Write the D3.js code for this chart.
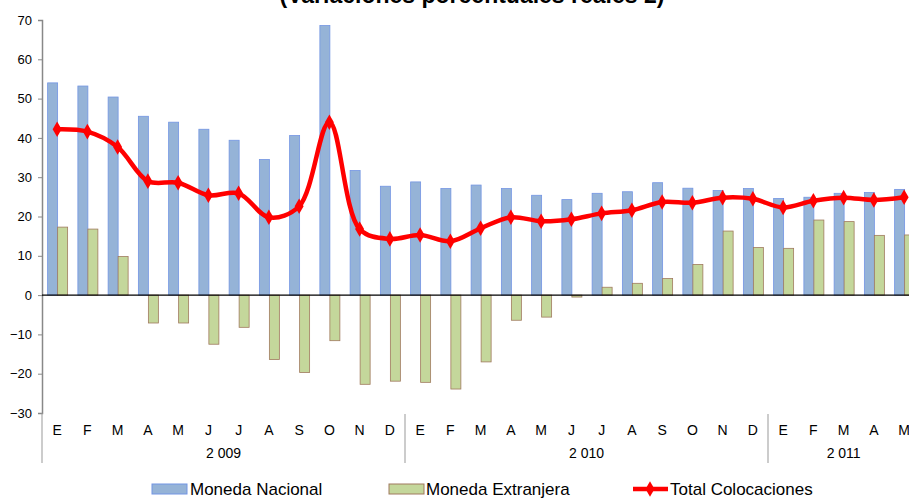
<!DOCTYPE html>
<html>
<head>
<meta charset="utf-8">
<script src="https://cdn.jsdelivr.net/npm/d3@7"></script>
<style>
  html, body { margin: 0; padding: 0; background: #fff; }
  svg { display: block; }
  text { font-family: Arial, "Liberation Sans", sans-serif; fill: #000; }
  .narrow { font-family: "Liberation Sans Narrow", "Arial Narrow", Arial, sans-serif; }
</style>
</head>
<body>
<svg id="chart" width="909" height="498"></svg>
<script>
// Month initials along the category axis (Jan 2009 – May 2011)
const months = ["E","F","M","A","M","J","J","A","S","O","N","D",
                "E","F","M","A","M","J","J","A","S","O","N","D",
                "E","F","M","A","M"];
const years = [
  { label: "2 009", start: 0, count: 12 },
  { label: "2 010", start: 12, count: 12 },
  { label: "2 011", start: 24, count: 5 }
];
// Real percentage variation, national currency loans
const monedaNacional = [54.0, 53.2, 50.4, 45.5, 44.0, 42.2, 39.4, 34.5, 40.6, 68.6, 31.7, 27.7,
                        28.8, 27.1, 28.0, 27.1, 25.4, 24.3, 25.9, 26.3, 28.6, 27.2, 26.6, 27.1,
                        24.6, 24.9, 25.9, 26.1, 26.9];
// Real percentage variation, foreign currency loans
const monedaExtranjera = [17.3, 16.8, 9.8, -7.1, -7.1, -12.5, -8.2, -16.4, -19.7, -11.6, -22.7, -21.9,
                          -22.2, -23.9, -17.0, -6.4, -5.6, -0.5, 2.0, 3.0, 4.2, 7.8, 16.3, 12.1,
                          11.9, 19.1, 18.7, 15.2, 15.3];
// Real percentage variation, total loans
const totalColocaciones = [42.2, 41.6, 37.7, 29.0, 28.6, 25.4, 25.9, 19.8, 22.6, 44.0, 16.8, 14.3,
                           15.3, 13.7, 17.0, 19.8, 18.8, 19.3, 20.8, 21.6, 23.7, 23.5, 24.8, 24.5,
                           22.3, 24.0, 24.8, 24.2, 24.9];
const yTicks = [-30, -20, -10, 0, 10, 20, 30, 40, 50, 60, 70];
const seriesNames = ["Moneda Nacional", "Moneda Extranjera", "Total Colocaciones"];
const titleText = "(Variaciones porcentuales reales 2)";

const svg = d3.select("#chart");
const plotLeft = 42, bandW = 30.25, plotTop = 20, plotBottom = 413;

const x = d3.scaleBand()
  .domain(d3.range(months.length))
  .range([plotLeft, plotLeft + bandW * months.length])
  .paddingInner(0).paddingOuter(0);
const cx = i => x(i) + x.bandwidth() / 2;
const y = d3.scaleLinear().domain([-30, 70]).range([plotBottom, plotTop]);

// Title (its upper part runs past the top edge of the page)
svg.append("text")
  .attr("x", 472).attr("y", 3)
  .attr("text-anchor", "middle")
  .style("font-weight", "bold").style("font-size", "23px")
  .text(titleText);

// Y axis
const yAxis = d3.axisLeft(y).tickValues(yTicks).tickSize(4).tickPadding(6).tickFormat(d3.format("d"));
const gy = svg.append("g").attr("transform", `translate(${plotLeft},0)`).call(yAxis);
gy.select(".domain").attr("stroke", "#888").attr("stroke-width", 1.5);
gy.selectAll(".tick line").attr("stroke", "#888");
gy.selectAll(".tick text").style("font-size", "13px").style("font-family", "Arial, 'Liberation Sans', sans-serif").attr("fill", "#000");

// Bars
const barW = 10;
svg.append("g").selectAll("rect").data(monedaNacional).join("rect")
  .attr("x", (d, i) => cx(i) - barW + 0.5)
  .attr("width", barW)
  .attr("y", d => y(Math.max(0, d)))
  .attr("height", d => Math.abs(y(d) - y(0)))
  .attr("fill", "#95b3d7")
  .attr("stroke", "#7395e3").attr("stroke-width", 0.8);

svg.append("g").selectAll("rect").data(monedaExtranjera).join("rect")
  .attr("x", (d, i) => cx(i) + 0.5)
  .attr("width", barW)
  .attr("y", d => y(Math.max(0, d)))
  .attr("height", d => Math.abs(y(d) - y(0)))
  .attr("fill", "#c4d79b")
  .attr("stroke", "#a07a5e").attr("stroke-width", 0.8);

// Zero line
svg.append("line")
  .attr("x1", plotLeft).attr("x2", 909)
  .attr("y1", y(0)).attr("y2", y(0))
  .attr("stroke", "#000").attr("stroke-width", 1.2);

// Total line with diamond markers
const line = d3.line()
  .x((d, i) => cx(i))
  .y(d => y(d))
  .curve(d3.curveCatmullRom.alpha(0.5));
svg.append("path")
  .datum(totalColocaciones)
  .attr("d", line)
  .attr("fill", "none")
  .attr("stroke", "#ff0000")
  .attr("stroke-width", 4.5)
  .attr("stroke-linejoin", "round");
svg.append("g").selectAll("path").data(totalColocaciones).join("path")
  .attr("transform", (d, i) => `translate(${cx(i)},${y(d)})`)
  .attr("d", d3.symbol(d3.symbolDiamond, 70))
  .attr("fill", "#ff0000");

// Category axis: month initials and year groups
const gx = svg.append("g");
gx.selectAll("text.month").data(months).join("text")
  .attr("class", "month narrow")
  .attr("x", (d, i) => cx(i))
  .attr("y", 435)
  .attr("text-anchor", "middle")
  .style("font-size", "14px")
  .text(d => d);
const sepX = [plotLeft].concat(years.slice(1).map(yr => x(yr.start)));
gx.selectAll("line.sep").data(sepX).join("line")
  .attr("class", "sep")
  .attr("x1", d => d).attr("x2", d => d)
  .attr("y1", (d, i) => i === 0 ? plotBottom : plotBottom + 1)
  .attr("y2", 463)
  .attr("stroke", "#999").attr("stroke-width", 1);
gx.selectAll("text.year").data(years).join("text")
  .attr("class", "year narrow")
  .attr("x", d => x(d.start) + d.count * bandW / 2)
  .attr("y", 458)
  .attr("text-anchor", "middle")
  .style("font-size", "14px")
  .text(d => d.label);

// Legend
const legend = svg.append("g");
const ly = 489;
legend.append("rect").attr("x", 152).attr("y", ly - 5).attr("width", 35).attr("height", 10)
  .attr("fill", "#95b3d7").attr("stroke", "#7395e3");
legend.append("text").attr("class", "narrow").attr("x", 190).attr("y", ly + 6)
  .style("font-size", "17px").text(seriesNames[0]);
legend.append("rect").attr("x", 389).attr("y", ly - 5).attr("width", 35).attr("height", 10)
  .attr("fill", "#c4d79b").attr("stroke", "#a07a5e");
legend.append("text").attr("class", "narrow").attr("x", 426).attr("y", ly + 6)
  .style("font-size", "17px").text(seriesNames[1]);
legend.append("line").attr("x1", 633).attr("x2", 668).attr("y1", ly).attr("y2", ly)
  .attr("stroke", "#ff0000").attr("stroke-width", 4.5);
legend.append("path").attr("transform", `translate(650,${ly})`)
  .attr("d", d3.symbol(d3.symbolDiamond, 70)).attr("fill", "#ff0000");
legend.append("text").attr("class", "narrow").attr("x", 670).attr("y", ly + 6)
  .style("font-size", "17px").text(seriesNames[2]);
</script>
</body>
</html>
